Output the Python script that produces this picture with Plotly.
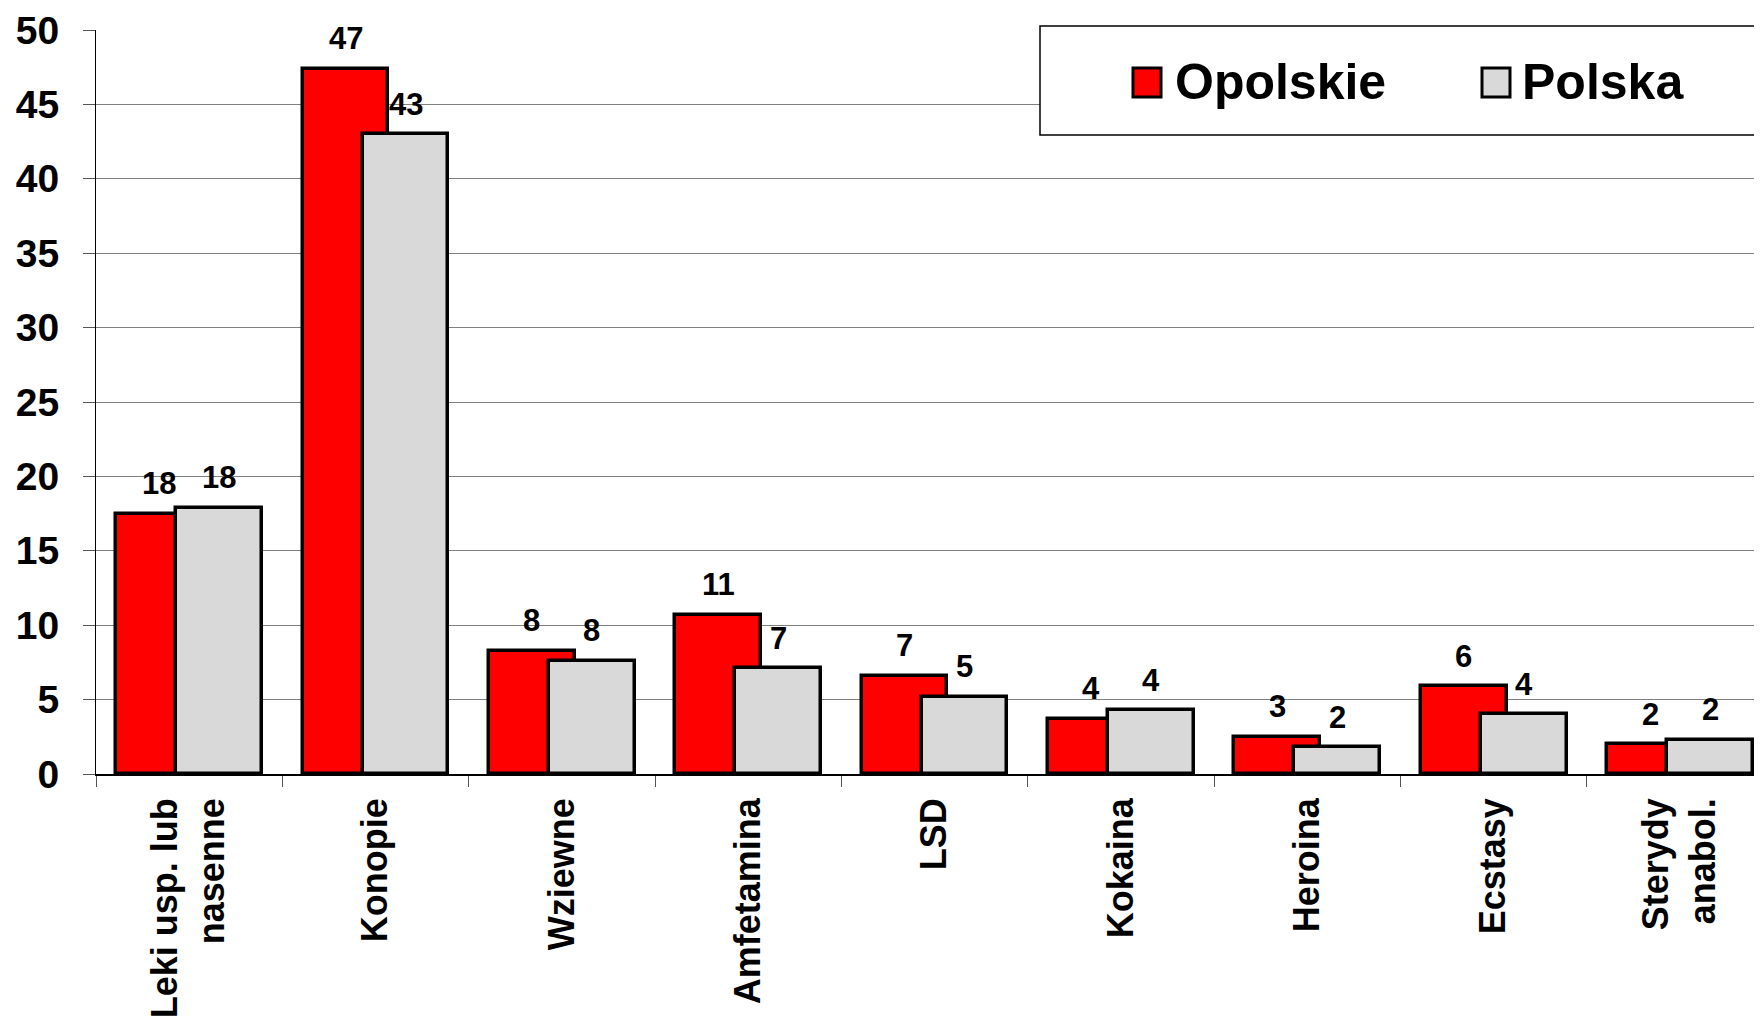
import plotly.graph_objects as go

categories = ["Leki usp. lub<br>nasenne", "Konopie", "Wziewne", "Amfetamina", "LSD",
              "Kokaina", "Heroina", "Ecstasy", "Sterydy<br>anabol."]
series_names = ["Opolskie", "Polska"]
opolskie = [17.5, 47.4, 8.3, 10.7, 6.6, 3.7, 2.5, 5.9, 2.0]
polska = [17.9, 43.0, 7.6, 7.1, 5.2, 4.3, 1.8, 4.0, 2.3]
opolskie_labels = ["18", "47", "8", "11", "7", "4", "3", "6", "2"]
polska_labels = ["18", "43", "8", "7", "5", "4", "2", "4", "2"]
y_ticks = [0, 5, 10, 15, 20, 25, 30, 35, 40, 45, 50]

FONT = "Liberation Sans, Arial, sans-serif"
W, H = 1762, 1025
PAGE_OFF = 8          # default body margin of the html page
L, T, R, B = 96 - PAGE_OFF, 30 - PAGE_OFF, PAGE_OFF, 251 + PAGE_OFF
BAR_W = 0.46
SHIFT = 0.161
COLORS = ["#FF0000", "#D9D9D9"]

plot_w = W - L - R
plot_h = H - T - B


def px_x(px):
    # page pixel -> paper coordinate
    return (px - PAGE_OFF - L) / plot_w


def px_y(py):
    return (H - B - (py - PAGE_OFF)) / plot_h


fig = go.Figure()
for name, vals, col, sgn in zip(series_names, [opolskie, polska], COLORS, [-1, 1]):
    fig.add_trace(go.Bar(
        name=name, x=categories, y=vals,
        width=BAR_W, offset=sgn * SHIFT - BAR_W / 2,
        marker=dict(color=col, line=dict(color="black", width=3.5)),
        showlegend=False,
    ))

annotations = []
for sgn, vals, labs in [(-1, opolskie, opolskie_labels), (1, polska, polska_labels)]:
    for i, (v, t) in enumerate(zip(vals, labs)):
        annotations.append(dict(x=i + sgn * SHIFT, y=v, text=t, xref="x", yref="y",
                                showarrow=False, yanchor="middle", yshift=30,
                                font=dict(family=FONT, size=31, color="black", weight="bold")))

# legend box, swatches and texts
shapes = [dict(type="rect", xref="paper", yref="paper",
               x0=px_x(1040), x1=1.05, y0=px_y(135), y1=px_y(26),
               fillcolor="white", line=dict(color="black", width=1.5),
               layer="above")]
legend_sw_x = [1133, 1482]
legend_tx_x = [1173, 1520]
for name, col, sx, tx in zip(series_names, COLORS, legend_sw_x, legend_tx_x):
    shapes.append(dict(type="rect", xref="paper", yref="paper",
                       x0=px_x(sx), x1=px_x(sx + 28), y0=px_y(97), y1=px_y(68),
                       fillcolor=col, line=dict(color="black", width=3),
                       layer="above"))
    annotations.append(dict(x=px_x(tx), y=px_y(82), xref="paper", yref="paper",
                            text=name, showarrow=False, xanchor="left", yanchor="middle",
                            font=dict(family=FONT, size=50, color="black", weight="bold")))

fig.update_layout(
    width=W, height=H,
    margin=dict(l=L, r=R, t=T, b=B, pad=0, autoexpand=False),
    paper_bgcolor="white", plot_bgcolor="white",
    barmode="overlay",
    bargap=0,
    showlegend=False,
    annotations=annotations,
    shapes=shapes,
    xaxis=dict(
        range=[-0.5, 8.44],
        showgrid=False,
        showline=True, linecolor="black", linewidth=1.5,
        ticks="outside", tickson="boundaries", ticklen=11, tickcolor="#555555", tickwidth=1,
        tickangle=-90,
        ticklabelstandoff=8,
        ticklabeloverflow="allow",
        tickfont=dict(family=FONT, size=36, color="black", weight="bold"),
    ),
    yaxis=dict(
        range=[0, 50],
        tickvals=y_ticks,
        showgrid=True, gridcolor="#808080", gridwidth=1,
        showline=True, linecolor="black", linewidth=1,
        ticks="outside", ticklen=12, tickcolor="#555555", tickwidth=1,
        ticklabelstandoff=16,
        ticklabeloverflow="allow",
        tickfont=dict(family=FONT, size=39, color="black", weight="bold"),
        zeroline=False,
    ),
)

fig.write_html("out.html")
